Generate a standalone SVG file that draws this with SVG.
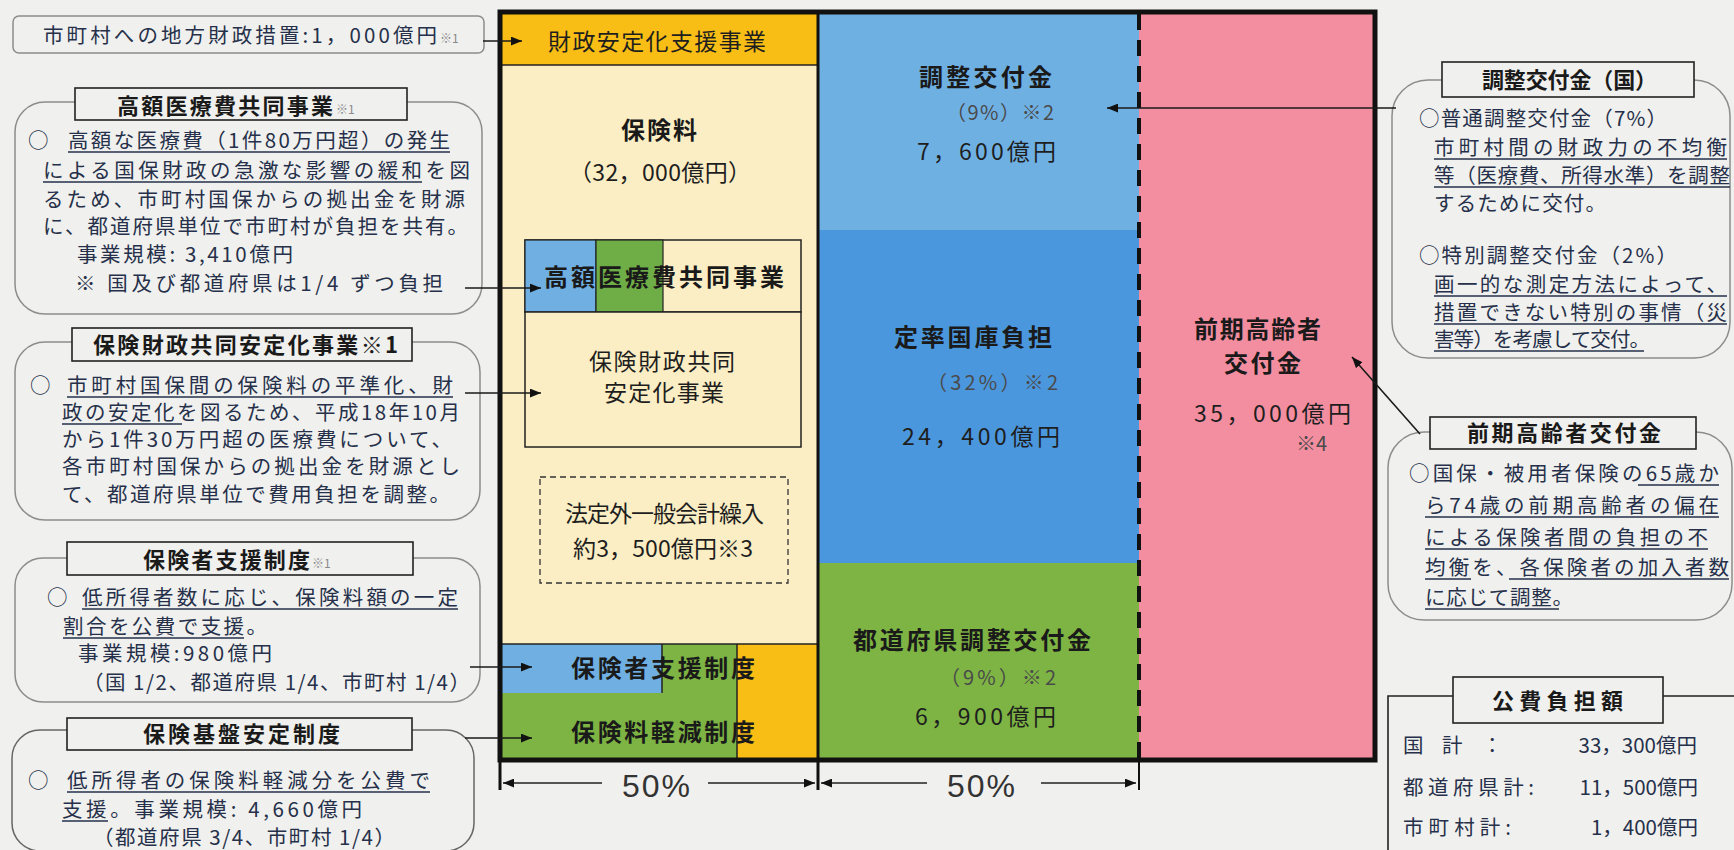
<svg xmlns="http://www.w3.org/2000/svg" width="1734" height="850" viewBox="0 0 1734 850">
<defs>
<style>
text{font-family:"Noto Sans CJK JP","Noto Sans CJK SC",sans-serif;}
.b{font-size:20.5px;fill:#26304a}
.tt{font-size:22px;font-weight:bold;fill:#1a1a1a}
.sm{font-size:12px;fill:#8a8a8a}
.pn{fill:none;stroke:#8c8c8c;stroke-width:1.5}
.tb{fill:#F0F0EE;stroke:#222;stroke-width:1.6}
.ul{stroke:#26304a;stroke-width:1.3}
.cn{stroke:#1a1a1a;stroke-width:1.6;fill:none}
.ct{font-size:23px;fill:#1e1e1e}
.cb{font-size:24px;font-weight:bold;fill:#1a1a1a}
.pc{font-size:20px;fill:#4a4a4a}
.ln{stroke:#222;stroke-width:1.5;fill:none}
.dim{font-family:"Liberation Sans",sans-serif;font-size:32px;fill:#333;letter-spacing:2px}
</style>
<marker id="ah" viewBox="0 0 10 8" refX="10" refY="4" markerWidth="11" markerHeight="9" markerUnits="userSpaceOnUse" orient="auto-start-reverse"><path d="M0,0 L10,4 L0,8 z" fill="#111"/></marker>
</defs>
<rect x="0" y="0" width="1734" height="850" fill="#F0F0EE"/>

<g id="chart">
  <rect x="500" y="12" width="318" height="53" fill="#F9BE16"/>
  <rect x="500" y="65" width="318" height="579" fill="#FBEEC4"/>
  <rect x="500" y="644" width="237" height="116" fill="#7DB443"/>
  <rect x="500" y="644" width="162" height="49" fill="#6FAFE2"/>
  <rect x="737" y="644" width="81" height="116" fill="#F9BE16"/>
  <rect x="818" y="12" width="321" height="218" fill="#6FB0E3"/>
  <rect x="818" y="230" width="321" height="333" fill="#4B97DD"/>
  <rect x="818" y="563" width="321" height="197" fill="#7DB443"/>
  <rect x="1139" y="12" width="236" height="748" fill="#F38EA1"/>
  <line class="ln" x1="500" y1="65" x2="818" y2="65"/>
  <line class="ln" x1="500" y1="644" x2="818" y2="644"/>
  <line class="ln" x1="662" y1="644" x2="662" y2="693"/>
  <line class="ln" x1="737" y1="644" x2="737" y2="760"/>
  <line x1="818" y1="12" x2="818" y2="790" stroke="#111" stroke-width="3"/>
  <line x1="1139" y1="14" x2="1139" y2="760" stroke="#111" stroke-width="4" stroke-dasharray="16 10"/>
  <line x1="1139" y1="760" x2="1139" y2="790" stroke="#111" stroke-width="2"/>
  <rect x="500" y="12" width="875" height="748" fill="none" stroke="#111" stroke-width="5"/>
  <line x1="500" y1="760" x2="500" y2="790" stroke="#111" stroke-width="3"/>
</g>

<g id="n-zaisei">
  <text class="ct" x="548" y="50" textLength="218" font-size="21">財政安定化支援事業</text>
</g>
<g id="n-hokenryo">
  <text class="cb" x="621" y="139" textLength="76">保険料</text>
  <text class="ct" x="569" y="181" textLength="182">（32，000億円）</text>
</g>
<g id="n-kougaku">
  <rect x="525" y="240" width="276" height="72" fill="#FBEEC4" stroke="#222" stroke-width="1.5"/>
  <rect x="525" y="240" width="71" height="72" fill="#6FAFE2" stroke="#222" stroke-width="1.2"/>
  <rect x="596" y="240" width="67" height="72" fill="#6FAE46" stroke="#222" stroke-width="1.2"/>
  <text class="cb" x="544" y="286" textLength="240" font-size="26">高額医療費共同事業</text>
</g>
<g id="n-kyodo">
  <rect x="525" y="312" width="276" height="135" fill="#FBEEC4" stroke="#222" stroke-width="1.5"/>
  <text class="ct" x="589" y="370" textLength="146" font-size="21">保険財政共同</text>
  <text class="ct" x="604" y="401" textLength="120" font-size="21">安定化事業</text>
</g>
<g id="n-hoteigai">
  <rect x="540" y="477" width="248" height="106" fill="none" stroke="#333" stroke-width="1.3" stroke-dasharray="6 4"/>
  <text class="ct" x="565" y="522" textLength="199" font-size="20">法定外一般会計繰入</text>
  <text class="ct" x="573" y="557" textLength="180" font-size="20">約3，500億円※3</text>
</g>
<g id="n-shien">
  <text class="cb" x="571" y="677" textLength="184" font-size="25">保険者支援制度</text>
</g>
<g id="n-keigen">
  <text class="cb" x="571" y="741" textLength="184" font-size="25">保険料軽減制度</text>
</g>
<g id="n-chosei">
  <text class="cb" x="919" y="86" textLength="133">調整交付金</text>
  <text class="pc" x="946" y="120" textLength="108">（9%）※2</text>
  <text class="ct" x="917" y="160" textLength="139">7，600億円</text>
</g>
<g id="n-teiritsu">
  <text class="cb" x="894" y="346" textLength="158">定率国庫負担</text>
  <text class="pc" x="927" y="390" textLength="131">（32%）※2</text>
  <text class="ct" x="902" y="445" textLength="158">24，400億円</text>
</g>
<g id="n-todofuken">
  <text class="cb" x="853" y="649" textLength="238">都道府県調整交付金</text>
  <text class="pc" x="940" y="685" textLength="116">（9%）※2</text>
  <text class="ct" x="915" y="725" textLength="141">6，900億円</text>
</g>
<g id="n-zenki">
  <text class="cb" x="1194" y="338" textLength="127">前期高齢者</text>
  <text class="cb" x="1224" y="372" textLength="77">交付金</text>
  <text class="ct" x="1194" y="422" textLength="157">35，000億円</text>
  <text class="pc" x="1296" y="451" font-size="18">※4</text>
</g>

<g id="dimension">
  <line x1="503" y1="783" x2="602" y2="783" stroke="#222" stroke-width="1.6" marker-start="url(#ah)"/>
  <line x1="708" y1="783" x2="815" y2="783" stroke="#222" stroke-width="1.6" marker-end="url(#ah)"/>
  <line x1="821" y1="783" x2="927" y2="783" stroke="#222" stroke-width="1.6" marker-start="url(#ah)"/>
  <line x1="1041" y1="783" x2="1136" y2="783" stroke="#222" stroke-width="1.6" marker-end="url(#ah)"/>
  <text class="dim" x="657" y="797" text-anchor="middle">50%</text>
  <text class="dim" x="982" y="797" text-anchor="middle">50%</text>
</g>

<g id="p1">
  <rect x="13" y="16" width="471" height="37" rx="6" class="pn"/>
  <text class="b" x="43" y="43" textLength="394" font-size="20">市町村への地方財政措置:1，000億円</text>
  <text class="sm" x="440" y="43">※1</text>
</g>
<g id="p2">
  <rect x="15" y="102" width="467" height="212" rx="30" class="pn"/>
  <rect x="75" y="88" width="332" height="32" class="tb"/>
  <text class="tt" x="117" y="114" textLength="216">高額医療費共同事業</text>
  <text class="sm" x="336" y="114">※1</text>
  <text class="b" x="28" y="148">○</text>
  <text class="b" x="68" y="148" textLength="382">高額な医療費（1件80万円超）の発生</text>
  <text class="b" x="43" y="178" textLength="427">による国保財政の急激な影響の緩和を図</text>
  <text class="b" x="43" y="207" textLength="422">るため、市町村国保からの拠出金を財源</text>
  <text class="b" x="43" y="234" textLength="425">に、都道府県単位で市町村が負担を共有。</text>
  <text class="b" x="77" y="262" textLength="216" font-size="19.5">事業規模: 3,410億円</text>
  <text class="b" x="75" y="291" textLength="368" font-size="20">※ 国及び都道府県は1/4 ずつ負担</text>
  <line class="ul" x1="68" y1="152" x2="450" y2="152"/>
  <line class="ul" x1="43" y1="182" x2="422" y2="182"/>
</g>
<g id="p3">
  <rect x="15" y="342" width="465" height="178" rx="30" class="pn"/>
  <rect x="72" y="328" width="340" height="33" class="tb"/>
  <text class="tt" x="93" y="353" textLength="305">保険財政共同安定化事業※1</text>
  <text class="b" x="30" y="393">○</text>
  <text class="b" x="67" y="393" textLength="386">市町村国保間の保険料の平準化、財</text>
  <text class="b" x="62" y="420" textLength="398">政の安定化を図るため、平成18年10月</text>
  <text class="b" x="62" y="447" textLength="390">から1件30万円超の医療費について、</text>
  <text class="b" x="62" y="474" textLength="398">各市町村国保からの拠出金を財源とし</text>
  <text class="b" x="62" y="502" textLength="388">て、都道府県単位で費用負担を調整。</text>
  <line class="ul" x1="67" y1="397" x2="453" y2="397"/>
  <line class="ul" x1="62" y1="424" x2="182" y2="424"/>
</g>
<g id="p4">
  <rect x="15" y="558" width="465" height="144" rx="28" class="pn"/>
  <rect x="67" y="542" width="346" height="33" class="tb"/>
  <text class="tt" x="143" y="568" textLength="167">保険者支援制度</text>
  <text class="sm" x="312" y="568">※1</text>
  <text class="b" x="47" y="605">○</text>
  <text class="b" x="82" y="605" textLength="376">低所得者数に応じ、保険料額の一定</text>
  <text class="b" x="63" y="634" textLength="204">割合を公費で支援。</text>
  <text class="b" x="78" y="661" textLength="194" font-size="19.5">事業規模:980億円</text>
  <text class="b" x="83" y="690" textLength="387">（国 1/2、都道府県 1/4、市町村 1/4）</text>
  <line class="ul" x1="82" y1="609" x2="458" y2="609"/>
  <line class="ul" x1="63" y1="638" x2="244" y2="638"/>
</g>
<g id="p5">
  <rect x="12" y="730" width="462" height="121" rx="28" fill="none" stroke="#666" stroke-width="1.5"/>
  <rect x="67" y="718" width="345" height="32" class="tb"/>
  <text class="tt" x="143" y="742" textLength="197">保険基盤安定制度</text>
  <text class="b" x="28" y="788">○</text>
  <text class="b" x="67" y="788" textLength="363">低所得者の保険料軽減分を公費で</text>
  <text class="b" x="62" y="817" textLength="300">支援。事業規模: 4,660億円</text>
  <text class="b" x="93" y="845" textLength="302">（都道府県 3/4、市町村 1/4）</text>
  <line class="ul" x1="67" y1="792" x2="430" y2="792"/>
  <line class="ul" x1="62" y1="821" x2="108" y2="821"/>
</g>

<g id="r1">
  <rect x="1392" y="80" width="338" height="278" rx="36" class="pn"/>
  <rect x="1442" y="62" width="252" height="35" class="tb"/>
  <text class="tt" x="1482" y="88" textLength="175">調整交付金（国）</text>
  <text class="b" x="1419" y="126" textLength="248">○普通調整交付金（7%）</text>
  <text class="b" x="1434" y="155" textLength="293">市町村間の財政力の不均衡</text>
  <text class="b" x="1434" y="183" textLength="296">等（医療費、所得水準）を調整</text>
  <text class="b" x="1434" y="211" textLength="172">するために交付。</text>
  <text class="b" x="1419" y="263" textLength="258">○特別調整交付金（2%）</text>
  <text class="b" x="1434" y="292" textLength="293">画一的な測定方法によって、</text>
  <text class="b" x="1434" y="320" textLength="293">措置できない特別の事情（災</text>
  <text class="b" x="1434" y="347" textLength="216">害等）を考慮して交付。</text>
  <line class="ul" x1="1434" y1="159" x2="1727" y2="159"/>
  <line class="ul" x1="1434" y1="187" x2="1730" y2="187"/>
  <line class="ul" x1="1434" y1="296" x2="1727" y2="296"/>
  <line class="ul" x1="1434" y1="324" x2="1727" y2="324"/>
  <line class="ul" x1="1434" y1="351" x2="1644" y2="351"/>
</g>
<g id="r2">
  <rect x="1388" y="432" width="344" height="188" rx="36" class="pn"/>
  <rect x="1430" y="417" width="266" height="32" class="tb"/>
  <text class="tt" x="1467" y="441" textLength="194">前期高齢者交付金</text>
  <text class="b" x="1409" y="481" textLength="310">○国保・被用者保険の65歳か</text>
  <text class="b" x="1425" y="513" textLength="294">ら74歳の前期高齢者の偏在</text>
  <text class="b" x="1425" y="545" textLength="283">による保険者間の負担の不</text>
  <text class="b" x="1425" y="575" textLength="304">均衡を、各保険者の加入者数</text>
  <text class="b" x="1425" y="605" textLength="148">に応じて調整。</text>
  <line class="ul" x1="1638" y1="485" x2="1719" y2="485"/>
  <line class="ul" x1="1425" y1="517" x2="1719" y2="517"/>
  <line class="ul" x1="1425" y1="549" x2="1708" y2="549"/>
  <line class="ul" x1="1425" y1="579" x2="1471" y2="579"/>
  <line class="ul" x1="1509" y1="579" x2="1729" y2="579"/>
  <line class="ul" x1="1425" y1="609" x2="1559" y2="609"/>
</g>
<g id="r3">
  <path d="M1388 850 V696 H1453 M1663 696 H1734" fill="none" stroke="#222" stroke-width="1.6"/>
  <rect x="1453" y="677" width="210" height="46" class="tb"/>
  <text class="tt" x="1492" y="709" textLength="131" font-size="24">公費負担額</text>
  <text class="b" fill="#333"><tspan x="1403" y="753">国</tspan><tspan x="1442" y="753">計</tspan><tspan x="1482" y="753">：</tspan></text>
  <text class="b" x="1697" y="753" text-anchor="end">33，300億円</text>
  <text class="b" x="1403" y="795" textLength="131">都道府県計:</text>
  <text class="b" x="1698" y="795" text-anchor="end">11，500億円</text>
  <text class="b" x="1403" y="835" textLength="108">市町村計:</text>
  <text class="b" x="1698" y="835" text-anchor="end">1，400億円</text>
</g>

<g id="connectors">
  <line class="cn" x1="483" y1="41" x2="522" y2="41" marker-end="url(#ah)"/>
  <line class="cn" x1="465" y1="288" x2="541" y2="288" marker-end="url(#ah)"/>
  <line class="cn" x1="465" y1="393" x2="541" y2="393" marker-end="url(#ah)"/>
  <line class="cn" x1="470" y1="667" x2="532" y2="667" marker-end="url(#ah)"/>
  <line class="cn" x1="465" y1="738" x2="532" y2="738" marker-end="url(#ah)"/>
  <line class="cn" x1="1396" y1="108" x2="1107" y2="108" stroke="#3a2a48" marker-end="url(#ah)"/>
  <line class="cn" x1="1420" y1="434" x2="1352" y2="357" marker-end="url(#ah)"/>
</g>
</svg>
